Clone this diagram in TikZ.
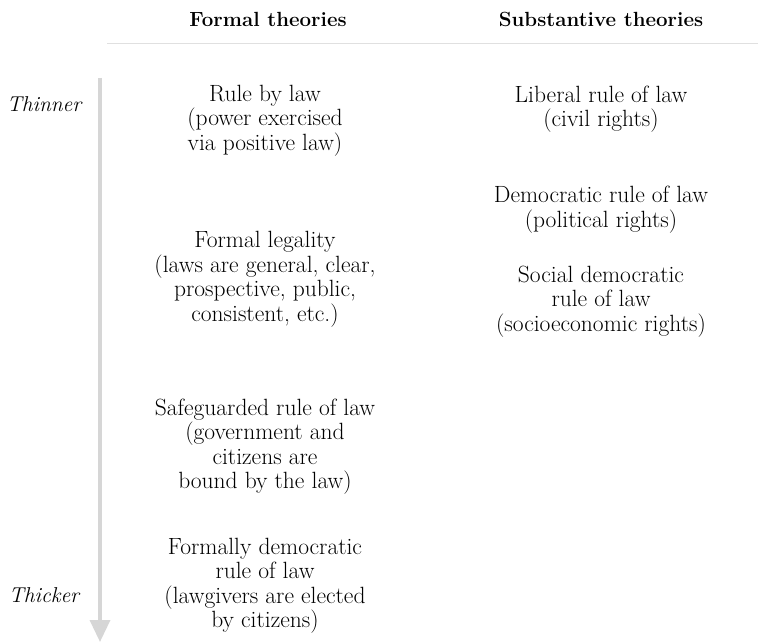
\documentclass[tikz,border=0pt]{standalone}
\usetikzlibrary{arrows.meta}
\definecolor{figGrisLinea}{RGB}{224,224,224}
\definecolor{figGrisEje}{RGB}{214,214,214}
\tikzset{
  theory/.style={align=center, inner sep=0pt,
    font=\fontsize{23.5}{24.5}\selectfont},
  header/.style={inner sep=0pt, font=\fontsize{20.5}{24.5}\selectfont\bfseries},
  degree/.style={inner sep=0pt, font=\fontsize{21.5}{24.5}\selectfont\itshape},
  axis/.style={-{Triangle[width=20pt,length=22pt]}, line width=3.5pt, draw=figGrisEje},
  rule/.style={line width=1pt, draw=figGrisLinea}
}

\begin{document}
\begin{tikzpicture}[x=1pt, y=-1pt]
  \useasboundingbox (0,0) rectangle (758,644);

  % column headers and the line under them
  \node[header] (formal) at (268,19) {Formal theories};
  \node[header] (subst) at (601,19) {Substantive theories};
  \coordinate (ruleL) at (107,44);
  \coordinate (ruleR) at (758,44);
  \draw[rule] (ruleL) -- (ruleR);

  % thin-to-thick scale
  \coordinate (top) at (100,78);
  \coordinate (bottom) at (100,642);
  \draw[axis] (top) -- (bottom);
  \node[degree] (thin) at (44,104) {Thinner};
  \node[degree] (thick) at (44,595) {Thicker};

  % formal versions
  \node[theory] (bylaw) at (265,120.5)
    {Rule by law\\(power exercised\\via positive law)};
  \node[theory] (legality) at (265,279.5)
    {Formal legality\\(laws are general, clear,\\prospective, public,\\consistent, etc.)};
  \node[theory] (safe) at (265,446.5)
    {Safeguarded rule of law\\(government and\\citizens are\\bound by the law)};
  \node[theory] (formdem) at (265,586)
    {Formally democratic\\rule of law\\(lawgivers are elected\\by citizens)};

  % substantive versions
  \node[theory] (liberal) at (601,109)
    {Liberal rule of law\\(civil rights)};
  \node[theory] (demo) at (601,209.5)
    {Democratic rule of law\\(political rights)};
  \node[theory] (social) at (601,301.5)
    {Social democratic\\rule of law\\(socioeconomic rights)};
\end{tikzpicture}
\end{document}
